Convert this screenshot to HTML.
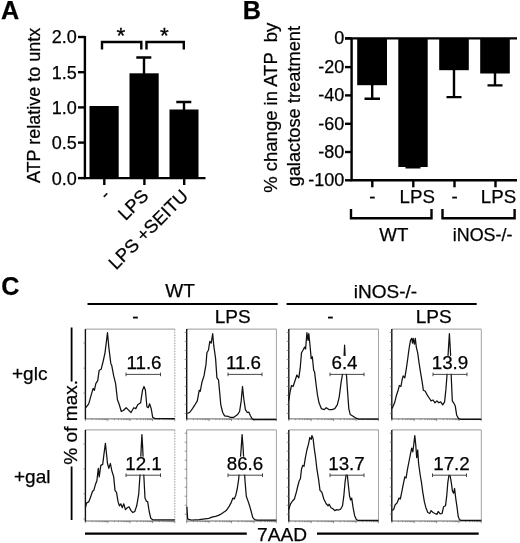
<!DOCTYPE html>
<html><head><meta charset="utf-8"><title>Figure</title>
<style>
html,body{margin:0;padding:0;background:#fff;}
svg{display:block;}
text{font-family:"Liberation Sans",sans-serif;fill:#000;stroke:#000;stroke-width:0.25px;}
.b{font-weight:bold;font-size:25.2px;}
.t{font-size:18px;}
.a{font-size:18px;}
.ar{font-size:18.2px;}
.by{font-size:18.3px;}
.cx{stroke:#000;stroke-width:2.2;fill:none;}
.bt{font-size:18px;}
.m{font-size:18.7px;}
.c{font-size:19px;}
.gt{font-size:18.8px;}
.l{font-size:19.1px;}
.ax{stroke:#000;stroke-width:2.4;fill:none;}
.bar{fill:#000;}
.h{stroke:#111;stroke-width:1.25;fill:none;stroke-linejoin:round;}
.g{stroke:#333;stroke-width:0.9;fill:none;}
</style></head><body>
<svg width="520" height="543" viewBox="0 0 520 543">
<rect width="520" height="543" fill="#fff"/>

<text class="b" x="1" y="19">A</text>
<text class="a" transform="translate(40.2,105.4) rotate(-90)" text-anchor="middle">ATP relative to untx</text>
<path class="ax" d="M84.9,36 V178.1 M83.7,178.1 H205.5"/>
<path class="ax" d="M78,37 H85"/>
<text class="t" x="76.8" y="43.4" text-anchor="end">2.0</text>
<path class="ax" d="M78,72.2 H85"/>
<text class="t" x="76.8" y="78.6" text-anchor="end">1.5</text>
<path class="ax" d="M78,107.4 H85"/>
<text class="t" x="76.8" y="113.8" text-anchor="end">1.0</text>
<path class="ax" d="M78,142.6 H85"/>
<text class="t" x="76.8" y="149.0" text-anchor="end">0.5</text>
<path class="ax" d="M78,178.1 H85"/>
<text class="t" x="76.8" y="184.5" text-anchor="end">0.0</text>
<path class="ax" d="M104.3,178.1 V185"/>
<path class="ax" d="M144.4,178.1 V185"/>
<path class="ax" d="M184.2,178.1 V185"/>
<rect class="bar" x="89.5" y="106" width="29.2" height="72"/>
<rect class="bar" x="129.5" y="73.3" width="29.2" height="104.7"/>
<rect class="bar" x="169.5" y="109.5" width="29" height="68.5"/>
<path class="ax" d="M144,74 V57.5 M136.3,57.5 H151.3 M184,110 V102 M176.3,102 H191.3"/>
<path class="ax" d="M102,49.5 V42 H141.3 V49.5 M146.5,49.5 V42 H183.8 V49.5"/>
<text class="t" x="120.8" y="43.4" text-anchor="middle" style="font-size:22.5px;stroke-width:0.3px">*</text>
<text class="t" x="164.5" y="43.4" text-anchor="middle" style="font-size:22.5px;stroke-width:0.3px">*</text>
<text class="ar" transform="translate(111,196.5) rotate(-45)" text-anchor="end">-</text>
<text class="ar" transform="translate(149.7,197) rotate(-45)" text-anchor="end">LPS</text>
<text class="ar" transform="translate(189.2,197.2) rotate(-45)" text-anchor="end">LPS +SEITU</text>
<text class="b" x="242.8" y="19">B</text>
<text class="by" style="font-size:18.5px" transform="translate(277,107.8) rotate(-90)" text-anchor="middle" xml:space="preserve">% change in ATP  by</text>
<text class="by" transform="translate(299.6,106.2) rotate(-90)" text-anchor="middle">galactose treatment</text>
<path class="ax" d="M351.6,38 V180.3 M345,38.4 H517 M350.4,180.3 H517"/>
<path class="ax" d="M345,38.4 H351.6"/>
<text class="bt" x="344.2" y="44.4" text-anchor="end">0</text>
<path class="ax" d="M345,67.1 H351.6"/>
<text class="bt" x="344.2" y="73.1" text-anchor="end">-20</text>
<path class="ax" d="M345,95.4 H351.6"/>
<text class="bt" x="344.2" y="101.4" text-anchor="end">-40</text>
<path class="ax" d="M345,123.8 H351.6"/>
<text class="bt" x="344.2" y="129.8" text-anchor="end">-60</text>
<path class="ax" d="M345,152.0 H351.6"/>
<text class="bt" x="344.2" y="158.0" text-anchor="end">-80</text>
<path class="ax" d="M345,180.3 H351.6"/>
<text class="bt" x="344.2" y="186.3" text-anchor="end">-100</text>
<rect class="bar" x="357.2" y="38" width="29.8" height="47.2"/>
<rect class="bar" x="398.3" y="38" width="29.4" height="129"/>
<rect class="bar" x="439.2" y="38" width="29.6" height="32.2"/>
<rect class="bar" x="480.2" y="38" width="29.6" height="35.5"/>
<path class="ax" d="M372.2,84 V98.8 M364.5,98.8 H380 M405.5,167.3 H420.5 M454,69 V97.1 M446.5,97.1 H461.5 M495,72 V85.4 M487.5,85.4 H502.5"/>
<path class="ax" d="M372.3,180.3 V187.3"/>
<path class="ax" d="M413.3,180.3 V187.3"/>
<path class="ax" d="M454.5,180.3 V187.3"/>
<path class="ax" d="M495.5,180.3 V187.3"/>
<text class="m" x="372.3" y="203" text-anchor="middle">-</text>
<text class="m" x="417.2" y="202.5" text-anchor="middle">LPS</text>
<text class="m" x="454.5" y="203" text-anchor="middle">-</text>
<text class="m" x="498.5" y="202.5" text-anchor="middle">LPS</text>
<path class="ax" d="M351,209 V218.2 H431.5 V209 M442.5,209 V218.2 H514.6 V209"/>
<text class="m" x="393.8" y="241.4" text-anchor="middle">WT</text>
<text class="m" x="482.6" y="240.5" text-anchor="middle" textLength="59.6" lengthAdjust="spacingAndGlyphs">iNOS-/-</text>
<text class="b" x="1.2" y="294.6">C</text>
<text class="c" x="180" y="297" text-anchor="middle">WT</text>
<text class="c" x="385.5" y="298" text-anchor="middle">iNOS-/-</text>
<path class="cx" d="M87.5,304 H277.7 M286.6,304 H476.7"/>
<text class="c" x="135.3" y="323.2" text-anchor="middle">-</text>
<text class="c" x="232.7" y="322.5" text-anchor="middle">LPS</text>
<text class="c" x="330.5" y="323.2" text-anchor="middle">-</text>
<text class="c" x="433.7" y="322.5" text-anchor="middle">LPS</text>
<text class="c" x="12" y="379.7">+glc</text>
<text class="c" x="14" y="483.4">+gal</text>
<path class="cx" style="stroke-width:1.8" d="M71.6,327.5 V381.5 M71.6,466.5 V520"/>
<text class="l" transform="translate(76.5,422.3) rotate(-90)" text-anchor="middle">% of max.</text>
<path class="cx" d="M85,533.7 H246.8 M317,533.7 H478.7"/>
<text class="l" x="282" y="540.5" text-anchor="middle">7AAD</text>
<path d="M85.4,329.1 H174.8" stroke="#999" stroke-width="1" fill="none"/>
<path d="M174.8,329.1 V418.9" stroke="#999" stroke-width="1" stroke-dasharray="1.5,1.2" fill="none"/>
<path d="M85.4,418.9 H174.8" stroke="#666" stroke-width="1" fill="none"/>
<path d="M85.4,329.1 V419.4" stroke="#111" stroke-width="1.4" fill="none"/>
<path d="M85.4,418.9 v2.2 M92.1,418.9 v1.2 M96.1,418.9 v1.2 M98.9,418.9 v1.2 M101.0,418.9 v1.2 M102.8,418.9 v1.2 M104.3,418.9 v1.2 M105.6,418.9 v1.2 M106.7,418.9 v1.2 M107.8,418.9 v2.2 M114.5,418.9 v1.2 M118.4,418.9 v1.2 M121.2,418.9 v1.2 M123.4,418.9 v1.2 M125.1,418.9 v1.2 M126.6,418.9 v1.2 M127.9,418.9 v1.2 M129.1,418.9 v1.2 M130.1,418.9 v2.2 M136.8,418.9 v1.2 M140.8,418.9 v1.2 M143.6,418.9 v1.2 M145.7,418.9 v1.2 M147.5,418.9 v1.2 M149.0,418.9 v1.2 M150.3,418.9 v1.2 M151.4,418.9 v1.2 M152.5,418.9 v2.2 M159.2,418.9 v1.2 M163.1,418.9 v1.2 M165.9,418.9 v1.2 M168.1,418.9 v1.2 M169.8,418.9 v1.2 M171.3,418.9 v1.2 M172.6,418.9 v1.2 M173.8,418.9 v1.2 M174.8,418.9 v2.2 M85.4,343.1 h-2 M85.4,368.1 h-2 M85.4,393.1 h-2" stroke="#666" stroke-width="0.7" fill="none"/>
<polyline class="h" points="85.8,407.7 88.7,403.8 90.6,397.1 93.1,388.4 94.4,390.3 95.8,383.6 97.7,380.7 99.2,370.2 101.2,369.2 103.1,361.5 105.0,352.8 107.5,332.7 108.8,347.1 110.8,363.4 111.7,365.3 113.7,375.9 115.6,383.6 117.5,400.0 119.0,403.8 121.3,411.5 123.3,410.5 126.2,407.7 128.1,409.6 131.0,412.5 133.8,407.7 135.8,408.6 137.7,404.8 140.6,402.8 142.5,390.3 144.0,386.5 145.4,390.3 146.9,406.7 148.3,407.7 149.6,403.8 151.2,408.6 152.7,417.3 155.0,418.6 174.8,418.6"/>
<rect x="125.7" y="355.90000000000003" width="36.6" height="17.9" fill="#fff"/>
<path class="g" d="M126,374.40000000000003 H160.5 M126,372.6 v3.6 M160.5,372.6 v3.6"/>
<text class="gt" x="144" y="369.3" text-anchor="middle">11.6</text>
<path d="M186.7,329.1 H276.4" stroke="#999" stroke-width="1" fill="none"/>
<path d="M276.4,329.1 V418.9" stroke="#999" stroke-width="0.9" fill="none"/>
<path d="M186.7,418.9 H276.4" stroke="#666" stroke-width="1" fill="none"/>
<path d="M186.7,329.1 V419.4" stroke="#111" stroke-width="1.4" fill="none"/>
<path d="M186.7,418.9 v2.2 M193.5,418.9 v1.2 M197.4,418.9 v1.2 M200.2,418.9 v1.2 M202.4,418.9 v1.2 M204.2,418.9 v1.2 M205.7,418.9 v1.2 M207.0,418.9 v1.2 M208.1,418.9 v1.2 M209.1,418.9 v2.2 M215.9,418.9 v1.2 M219.8,418.9 v1.2 M222.6,418.9 v1.2 M224.8,418.9 v1.2 M226.6,418.9 v1.2 M228.1,418.9 v1.2 M229.4,418.9 v1.2 M230.5,418.9 v1.2 M231.5,418.9 v2.2 M238.3,418.9 v1.2 M242.2,418.9 v1.2 M245.1,418.9 v1.2 M247.2,418.9 v1.2 M249.0,418.9 v1.2 M250.5,418.9 v1.2 M251.8,418.9 v1.2 M252.9,418.9 v1.2 M254.0,418.9 v2.2 M260.7,418.9 v1.2 M264.7,418.9 v1.2 M267.5,418.9 v1.2 M269.6,418.9 v1.2 M271.4,418.9 v1.2 M272.9,418.9 v1.2 M274.2,418.9 v1.2 M275.4,418.9 v1.2 M276.4,418.9 v2.2 M186.7,332.4 h-2 M186.7,341.4 h-2 M186.7,350.4 h-2 M186.7,359.4 h-2 M186.7,368.4 h-2 M186.7,377.4 h-2 M186.7,386.4 h-2 M186.7,395.4 h-2 M186.7,404.4 h-2 M186.7,413.4 h-2" stroke="#666" stroke-width="0.7" fill="none"/>
<polyline class="h" points="187.3,413.4 189.6,412.5 192.5,408.6 194.4,405.7 197.3,400.9 199.2,390.3 200.2,391.3 202.1,381.7 204.0,375.9 206.0,364.4 206.9,352.8 208.5,350.0 209.8,341.3 211.2,343.2 212.7,333.6 213.7,345.2 215.6,358.6 216.9,377.8 218.5,379.8 219.4,389.4 220.8,404.8 222.7,412.5 224.6,415.9 228.1,416.3 230.0,417.3 233.8,417.3 237.7,414.4 239.6,411.5 241.2,400.9 242.5,386.5 243.8,399.0 245.4,409.6 247.3,412.5 248.8,412.1 250.2,415.3 252.1,418.8 254.0,419.6 276.4,419.6"/>
<rect x="225.2" y="355.90000000000003" width="36.6" height="17.9" fill="#fff"/>
<path class="g" d="M228,374.40000000000003 H262 M228,372.6 v3.6 M262,372.6 v3.6"/>
<text class="gt" x="243.5" y="369.3" text-anchor="middle">11.6</text>
<path d="M288.8,329.1 H378.5" stroke="#999" stroke-width="1" fill="none"/>
<path d="M378.5,329.1 V418.9" stroke="#999" stroke-width="0.9" fill="none"/>
<path d="M288.8,418.9 H378.5" stroke="#666" stroke-width="1" fill="none"/>
<path d="M288.8,329.1 V419.4" stroke="#111" stroke-width="1.4" fill="none"/>
<path d="M288.8,418.9 v2.2 M295.6,418.9 v1.2 M299.5,418.9 v1.2 M302.3,418.9 v1.2 M304.5,418.9 v1.2 M306.3,418.9 v1.2 M307.8,418.9 v1.2 M309.1,418.9 v1.2 M310.2,418.9 v1.2 M311.2,418.9 v2.2 M318.0,418.9 v1.2 M321.9,418.9 v1.2 M324.7,418.9 v1.2 M326.9,418.9 v1.2 M328.7,418.9 v1.2 M330.2,418.9 v1.2 M331.5,418.9 v1.2 M332.6,418.9 v1.2 M333.6,418.9 v2.2 M340.4,418.9 v1.2 M344.3,418.9 v1.2 M347.2,418.9 v1.2 M349.3,418.9 v1.2 M351.1,418.9 v1.2 M352.6,418.9 v1.2 M353.9,418.9 v1.2 M355.0,418.9 v1.2 M356.1,418.9 v2.2 M362.8,418.9 v1.2 M366.8,418.9 v1.2 M369.6,418.9 v1.2 M371.7,418.9 v1.2 M373.5,418.9 v1.2 M375.0,418.9 v1.2 M376.3,418.9 v1.2 M377.5,418.9 v1.2 M378.5,418.9 v2.2 M288.8,332.4 h-2 M288.8,341.4 h-2 M288.8,350.4 h-2 M288.8,359.4 h-2 M288.8,368.4 h-2 M288.8,377.4 h-2 M288.8,386.4 h-2 M288.8,395.4 h-2 M288.8,404.4 h-2 M288.8,413.4 h-2" stroke="#666" stroke-width="0.7" fill="none"/>
<polyline class="h" points="288.7,400.9 290.0,392.3 291.5,385.5 293.1,386.5 295.0,380.7 296.9,375.0 298.8,377.8 300.2,368.2 301.5,352.8 303.1,350.0 304.6,347.1 305.6,349.0 306.9,332.7 308.1,340.3 308.8,333.6 310.0,345.2 311.2,358.6 312.3,356.7 313.7,370.2 314.6,372.1 316.2,385.5 317.5,395.2 319.0,402.8 321.3,408.6 324.2,409.6 326.2,407.7 329.0,409.6 331.9,409.6 334.8,408.6 337.3,404.8 339.2,397.1 341.2,381.7 342.7,373.0 343.8,362.5 344.6,345.2 345.4,362.5 346.5,375.9 347.7,393.2 348.8,408.6 350.2,414.4 353.1,416.3 356.0,418.2 358.8,419.2 378.5,419.2"/>
<rect x="330.6" y="355.90000000000003" width="27.7" height="17.9" fill="#fff"/>
<path class="g" d="M330,374.40000000000003 H364 M330,372.6 v3.6 M364,372.6 v3.6"/>
<text class="gt" x="344.5" y="369.3" text-anchor="middle">6.4</text>
<path d="M391.8,329.1 H481.3" stroke="#999" stroke-width="1" fill="none"/>
<path d="M481.3,329.1 V418.9" stroke="#999" stroke-width="0.9" fill="none"/>
<path d="M391.8,418.9 H481.3" stroke="#666" stroke-width="1" fill="none"/>
<path d="M391.8,329.1 V419.4" stroke="#111" stroke-width="1.4" fill="none"/>
<path d="M391.8,418.9 v2.2 M398.5,418.9 v1.2 M402.5,418.9 v1.2 M405.3,418.9 v1.2 M407.4,418.9 v1.2 M409.2,418.9 v1.2 M410.7,418.9 v1.2 M412.0,418.9 v1.2 M413.2,418.9 v1.2 M414.2,418.9 v2.2 M420.9,418.9 v1.2 M424.9,418.9 v1.2 M427.6,418.9 v1.2 M429.8,418.9 v1.2 M431.6,418.9 v1.2 M433.1,418.9 v1.2 M434.4,418.9 v1.2 M435.5,418.9 v1.2 M436.6,418.9 v2.2 M443.3,418.9 v1.2 M447.2,418.9 v1.2 M450.0,418.9 v1.2 M452.2,418.9 v1.2 M454.0,418.9 v1.2 M455.5,418.9 v1.2 M456.8,418.9 v1.2 M457.9,418.9 v1.2 M458.9,418.9 v2.2 M465.7,418.9 v1.2 M469.6,418.9 v1.2 M472.4,418.9 v1.2 M474.6,418.9 v1.2 M476.3,418.9 v1.2 M477.8,418.9 v1.2 M479.1,418.9 v1.2 M480.3,418.9 v1.2 M481.3,418.9 v2.2 M391.8,332.4 h-2 M391.8,341.4 h-2 M391.8,350.4 h-2 M391.8,359.4 h-2 M391.8,368.4 h-2 M391.8,377.4 h-2 M391.8,386.4 h-2 M391.8,395.4 h-2 M391.8,404.4 h-2 M391.8,413.4 h-2" stroke="#666" stroke-width="0.7" fill="none"/>
<polyline class="h" points="392.1,408.6 394.6,402.8 396.5,395.2 397.8,391.3 399.4,385.5 400.9,386.5 402.3,378.8 403.2,375.9 404.8,377.8 406.1,370.2 407.5,360.5 409.0,349.0 410.5,340.3 411.7,338.4 412.5,343.2 413.2,338.4 414.4,344.2 415.3,338.4 416.3,347.1 417.7,352.8 419.0,362.5 420.5,372.1 422.1,381.7 423.4,390.3 425.3,391.3 427.3,395.2 429.2,398.0 431.1,400.9 433.0,400.0 435.0,402.8 436.9,400.9 438.8,402.8 440.7,401.9 442.7,404.8 444.6,401.9 445.9,389.4 447.1,374.0 448.2,352.8 449.4,333.6 450.5,352.8 451.3,377.8 452.3,400.9 453.6,402.8 455.2,405.7 456.7,415.3 458.6,418.6 460.9,419.4 481.3,419.4"/>
<rect x="431.0" y="355.90000000000003" width="38.0" height="17.9" fill="#fff"/>
<path class="g" d="M433,374.40000000000003 H467 M433,372.6 v3.6 M467,372.6 v3.6"/>
<text class="gt" x="450" y="369.3" text-anchor="middle">13.9</text>
<path d="M85.4,429.9 H174.8" stroke="#999" stroke-width="1" fill="none"/>
<path d="M174.8,429.9 V521" stroke="#999" stroke-width="1" stroke-dasharray="1.5,1.2" fill="none"/>
<path d="M85.4,521 H174.8" stroke="#666" stroke-width="1" fill="none"/>
<path d="M85.4,429.9 V521.5" stroke="#111" stroke-width="1.4" fill="none"/>
<path d="M85.4,521 v2.2 M92.1,521 v1.2 M96.1,521 v1.2 M98.9,521 v1.2 M101.0,521 v1.2 M102.8,521 v1.2 M104.3,521 v1.2 M105.6,521 v1.2 M106.7,521 v1.2 M107.8,521 v2.2 M114.5,521 v1.2 M118.4,521 v1.2 M121.2,521 v1.2 M123.4,521 v1.2 M125.1,521 v1.2 M126.6,521 v1.2 M127.9,521 v1.2 M129.1,521 v1.2 M130.1,521 v2.2 M136.8,521 v1.2 M140.8,521 v1.2 M143.6,521 v1.2 M145.7,521 v1.2 M147.5,521 v1.2 M149.0,521 v1.2 M150.3,521 v1.2 M151.4,521 v1.2 M152.5,521 v2.2 M159.2,521 v1.2 M163.1,521 v1.2 M165.9,521 v1.2 M168.1,521 v1.2 M169.8,521 v1.2 M171.3,521 v1.2 M172.6,521 v1.2 M173.8,521 v1.2 M174.8,521 v2.2 M85.4,443.9 h-2 M85.4,468.9 h-2 M85.4,493.9 h-2 M85.4,518.9 h-2" stroke="#666" stroke-width="0.7" fill="none"/>
<polyline class="h" points="85.4,507.7 86.7,502.9 88.7,501.9 90.6,497.1 92.5,491.3 93.8,490.4 95.4,484.6 96.9,480.8 98.3,468.3 99.2,476.9 100.8,465.4 102.7,464.4 104.0,453.8 105.4,443.3 106.5,453.8 107.5,463.5 108.8,468.3 110.4,463.5 111.7,470.2 113.7,476.9 115.0,490.4 116.5,492.3 118.1,501.9 119.4,505.8 120.8,503.8 122.3,507.7 123.8,503.8 125.4,509.6 127.3,507.7 129.0,506.7 131.0,510.6 132.9,512.5 134.8,511.5 136.7,505.8 138.7,494.2 140.0,475.0 141.2,448.1 141.9,434.6 142.7,448.1 143.8,475.0 145.0,498.1 146.3,501.0 147.7,501.9 149.2,511.5 150.8,518.3 152.7,519.8 174.8,519.8"/>
<rect x="124.5" y="456.7" width="38.0" height="17.9" fill="#fff"/>
<path class="g" d="M126,475.2 H160.5 M126,473.4 v3.6 M160.5,473.4 v3.6"/>
<text class="gt" x="143.5" y="470.09999999999997" text-anchor="middle">12.1</text>
<path d="M186.7,429.9 H276.4" stroke="#999" stroke-width="1" fill="none"/>
<path d="M276.4,429.9 V521" stroke="#999" stroke-width="0.9" fill="none"/>
<path d="M186.7,521 H276.4" stroke="#666" stroke-width="1" fill="none"/>
<path d="M186.7,429.9 V521.5" stroke="#888" stroke-width="0.9" fill="none"/>
<path d="M186.7,521 v2.2 M193.5,521 v1.2 M197.4,521 v1.2 M200.2,521 v1.2 M202.4,521 v1.2 M204.2,521 v1.2 M205.7,521 v1.2 M207.0,521 v1.2 M208.1,521 v1.2 M209.1,521 v2.2 M215.9,521 v1.2 M219.8,521 v1.2 M222.6,521 v1.2 M224.8,521 v1.2 M226.6,521 v1.2 M228.1,521 v1.2 M229.4,521 v1.2 M230.5,521 v1.2 M231.5,521 v2.2 M238.3,521 v1.2 M242.2,521 v1.2 M245.1,521 v1.2 M247.2,521 v1.2 M249.0,521 v1.2 M250.5,521 v1.2 M251.8,521 v1.2 M252.9,521 v1.2 M254.0,521 v2.2 M260.7,521 v1.2 M264.7,521 v1.2 M267.5,521 v1.2 M269.6,521 v1.2 M271.4,521 v1.2 M272.9,521 v1.2 M274.2,521 v1.2 M275.4,521 v1.2 M276.4,521 v2.2 M186.7,433.2 h-2 M186.7,442.2 h-2 M186.7,451.2 h-2 M186.7,460.2 h-2 M186.7,469.2 h-2 M186.7,478.2 h-2 M186.7,487.2 h-2 M186.7,496.2 h-2 M186.7,505.2 h-2 M186.7,514.2 h-2" stroke="#666" stroke-width="0.7" fill="none"/>
<polyline class="h" points="186.9,506.7 187.7,519.2 191.5,520.0 199.2,519.6 205.0,518.8 208.8,518.3 212.7,516.9 215.6,516.3 218.5,515.4 220.4,514.4 223.3,512.5 226.2,510.6 229.0,506.7 231.0,502.9 232.9,498.1 234.2,499.0 235.8,495.2 237.3,488.5 238.7,478.8 240.0,463.5 241.2,448.1 242.1,434.6 243.1,448.1 244.0,463.5 245.0,480.8 246.3,496.2 248.3,501.9 249.6,505.8 251.2,511.5 252.7,517.3 254.6,519.6 256.9,520.2 276.4,520.2"/>
<rect x="226.0" y="456.7" width="38.0" height="17.9" fill="#fff"/>
<path class="g" d="M228,475.2 H262.5 M228,473.4 v3.6 M262.5,473.4 v3.6"/>
<text class="gt" x="245" y="470.09999999999997" text-anchor="middle">86.6</text>
<path d="M288.8,429.9 H378.5" stroke="#999" stroke-width="1" fill="none"/>
<path d="M378.5,429.9 V521" stroke="#999" stroke-width="0.9" fill="none"/>
<path d="M288.8,521 H378.5" stroke="#666" stroke-width="1" fill="none"/>
<path d="M288.8,429.9 V521.5" stroke="#111" stroke-width="1.4" fill="none"/>
<path d="M288.8,521 v2.2 M295.6,521 v1.2 M299.5,521 v1.2 M302.3,521 v1.2 M304.5,521 v1.2 M306.3,521 v1.2 M307.8,521 v1.2 M309.1,521 v1.2 M310.2,521 v1.2 M311.2,521 v2.2 M318.0,521 v1.2 M321.9,521 v1.2 M324.7,521 v1.2 M326.9,521 v1.2 M328.7,521 v1.2 M330.2,521 v1.2 M331.5,521 v1.2 M332.6,521 v1.2 M333.6,521 v2.2 M340.4,521 v1.2 M344.3,521 v1.2 M347.2,521 v1.2 M349.3,521 v1.2 M351.1,521 v1.2 M352.6,521 v1.2 M353.9,521 v1.2 M355.0,521 v1.2 M356.1,521 v2.2 M362.8,521 v1.2 M366.8,521 v1.2 M369.6,521 v1.2 M371.7,521 v1.2 M373.5,521 v1.2 M375.0,521 v1.2 M376.3,521 v1.2 M377.5,521 v1.2 M378.5,521 v2.2 M288.8,433.2 h-2 M288.8,442.2 h-2 M288.8,451.2 h-2 M288.8,460.2 h-2 M288.8,469.2 h-2 M288.8,478.2 h-2 M288.8,487.2 h-2 M288.8,496.2 h-2 M288.8,505.2 h-2 M288.8,514.2 h-2" stroke="#666" stroke-width="0.7" fill="none"/>
<polyline class="h" points="288.7,509.6 290.6,503.8 292.5,501.0 294.4,499.0 296.3,492.3 297.7,486.5 299.2,480.8 300.4,478.8 301.5,469.2 302.7,465.4 304.0,466.3 305.4,457.7 306.9,450.0 308.5,444.2 309.8,437.5 311.2,439.4 311.9,435.6 313.1,438.5 314.2,448.1 315.6,457.7 316.9,469.2 318.5,478.8 320.0,490.4 321.9,492.3 323.8,499.0 326.2,503.8 328.1,505.8 329.2,504.2 331.0,507.7 332.9,508.7 334.8,510.6 336.7,509.6 338.7,510.0 340.6,509.2 342.5,505.8 343.8,496.2 345.0,482.7 346.2,474.0 347.3,475.0 348.5,486.5 349.6,496.2 350.6,500.0 351.7,498.1 353.1,507.7 354.6,515.4 356.2,519.2 357.9,520.4 378.5,520.4"/>
<rect x="327.5" y="456.7" width="38.0" height="17.9" fill="#fff"/>
<path class="g" d="M330,475.2 H364 M330,473.4 v3.6 M364,473.4 v3.6"/>
<text class="gt" x="346.5" y="470.09999999999997" text-anchor="middle">13.7</text>
<path d="M391.8,429.9 H481.3" stroke="#999" stroke-width="1" fill="none"/>
<path d="M481.3,429.9 V521" stroke="#999" stroke-width="0.9" fill="none"/>
<path d="M391.8,521 H481.3" stroke="#666" stroke-width="1" fill="none"/>
<path d="M391.8,429.9 V521.5" stroke="#111" stroke-width="1.4" fill="none"/>
<path d="M391.8,521 v2.2 M398.5,521 v1.2 M402.5,521 v1.2 M405.3,521 v1.2 M407.4,521 v1.2 M409.2,521 v1.2 M410.7,521 v1.2 M412.0,521 v1.2 M413.2,521 v1.2 M414.2,521 v2.2 M420.9,521 v1.2 M424.9,521 v1.2 M427.6,521 v1.2 M429.8,521 v1.2 M431.6,521 v1.2 M433.1,521 v1.2 M434.4,521 v1.2 M435.5,521 v1.2 M436.6,521 v2.2 M443.3,521 v1.2 M447.2,521 v1.2 M450.0,521 v1.2 M452.2,521 v1.2 M454.0,521 v1.2 M455.5,521 v1.2 M456.8,521 v1.2 M457.9,521 v1.2 M458.9,521 v2.2 M465.7,521 v1.2 M469.6,521 v1.2 M472.4,521 v1.2 M474.6,521 v1.2 M476.3,521 v1.2 M477.8,521 v1.2 M479.1,521 v1.2 M480.3,521 v1.2 M481.3,521 v2.2 M391.8,433.2 h-2 M391.8,442.2 h-2 M391.8,451.2 h-2 M391.8,460.2 h-2 M391.8,469.2 h-2 M391.8,478.2 h-2 M391.8,487.2 h-2 M391.8,496.2 h-2 M391.8,505.2 h-2 M391.8,514.2 h-2" stroke="#666" stroke-width="0.7" fill="none"/>
<polyline class="h" points="392.1,510.6 393.6,509.6 395.2,504.8 397.1,502.9 399.0,498.1 400.3,499.0 401.7,492.3 403.2,484.6 404.8,476.9 406.1,477.9 407.5,469.2 409.0,461.5 410.5,453.8 411.7,448.1 412.8,451.9 413.8,444.2 414.8,435.6 415.7,444.2 416.7,457.7 417.7,450.0 418.6,463.5 420.2,475.0 421.5,482.7 422.8,492.3 424.4,501.9 425.9,507.7 427.8,512.5 429.8,513.5 431.1,510.6 433.0,512.5 435.0,513.5 436.9,514.4 438.2,511.5 440.2,513.8 442.1,513.5 443.6,506.7 445.5,505.8 446.7,496.2 447.8,482.7 449.0,475.0 450.2,476.0 451.3,482.7 452.5,491.3 453.6,493.3 454.6,488.5 455.7,498.1 457.1,507.7 458.2,516.3 459.4,519.6 460.9,520.4 481.3,520.4"/>
<rect x="432.5" y="456.7" width="38.0" height="17.9" fill="#fff"/>
<path class="g" d="M432.5,475.2 H466.5 M432.5,473.4 v3.6 M466.5,473.4 v3.6"/>
<text class="gt" x="451.5" y="470.09999999999997" text-anchor="middle">17.2</text>
</svg>
</body></html>
